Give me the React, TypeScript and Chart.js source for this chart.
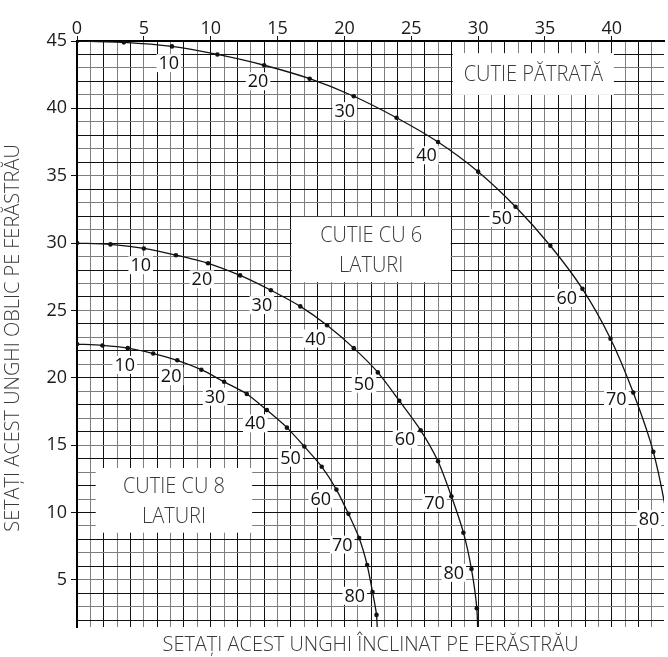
import React, { useEffect, useRef } from 'react';
import { Chart, registerables } from 'chart.js';

Chart.register(...registerables);

// Slope angle of the box sides (degrees) for each plotted point
const slopeAngles = [0, 5, 10, 15, 20, 25, 30, 35, 40, 45, 50, 55, 60, 65, 70, 75, 80, 85, 90];

// Square box: bevel (x) and miter (y)
const squareBevel = [0, 3.5, 7.1, 10.5, 14.0, 17.4, 20.7, 23.9, 27.0, 30.0, 32.8, 35.4, 37.8, 39.9, 41.6, 43.1, 44.1, 44.8];
const squareMiter = [45, 44.9, 44.6, 44.0, 43.2, 42.2, 40.9, 39.3, 37.5, 35.3, 32.7, 29.8, 26.6, 22.9, 18.9, 14.5, 9.8, 5.0];

// 6-sided box
const hexBevel = [0, 2.5, 5.0, 7.4, 9.8, 12.2, 14.5, 16.7, 18.7, 20.7, 22.5, 24.1, 25.7, 27.0, 28.0, 28.9, 29.5, 29.9, 30.0];
const hexMiter = [30, 29.9, 29.6, 29.1, 28.5, 27.6, 26.5, 25.3, 23.9, 22.2, 20.4, 18.3, 16.1, 13.8, 11.2, 8.5, 5.8, 2.9, 0];

// 8-sided box
const octBevel = [0, 1.9, 3.8, 5.7, 7.5, 9.3, 11.0, 12.7, 14.2, 15.7, 17.0, 18.3, 19.4, 20.3, 21.1, 21.7, 22.1, 22.4, 22.5];
const octMiter = [22.5, 22.4, 22.2, 21.8, 21.3, 20.6, 19.7, 18.8, 17.6, 16.3, 14.9, 13.4, 11.7, 9.9, 8.1, 6.1, 4.1, 2.4, 0];

const labelledAngles = [10, 20, 30, 40, 50, 60, 70, 80];
const xTickLabels = [0, 5, 10, 15, 20, 25, 30, 35, 40];
const yTickLabels = [5, 10, 15, 20, 25, 30, 35, 40, 45];

const xTitle = 'SETAȚI ACEST UNGHI ÎNCLINAT PE FERĂSTRĂU';
const yTitle = 'SETAȚI ACEST UNGHI OBLIC PE FERĂSTRĂU';

const squareBoxText = ['CUTIE PĂTRATĂ'];
const hexBoxText = ['CUTIE CU 6', 'LATURI'];
const octBoxText = ['CUTIE CU 8', 'LATURI'];

// Layout (data-unit extents of the white caption boxes)
const boxLayout = [
  { lines: squareBoxText, x0: 28.1, x1: 40.15, y0: 41.0, y1: 44.1 },
  { lines: hexBoxText, x0: 16.05, x1: 27.95, y0: 27.1, y1: 31.95 },
  { lines: octBoxText, x0: 1.4, x1: 13.1, y0: 8.5, y1: 13.3 },
];

const X_MIN = 0, X_MAX = 43.9, Y_MIN = 1.5, Y_MAX = 45;
const DARK = '#121212';
const GREY = '#7e7e7e';
const TEXT = '#3a3a3a';
const FONT = '"Open Sans", "Noto Sans", sans-serif';
const TITLE_CONDENSE = 0.95;
const BOX_CONDENSE = 0.91;

const series = [
  { bevel: squareBevel, miter: squareMiter },
  { bevel: hexBevel, miter: hexMiter },
  { bevel: octBevel, miter: octMiter },
];

function drawCondensed(ctx: CanvasRenderingContext2D, text: string, cx: number, cy: number, k: number, rot = 0) {
  ctx.save();
  ctx.translate(cx, cy);
  if (rot) ctx.rotate(rot);
  ctx.scale(k, 1);
  ctx.fillText(text, 0, 0);
  ctx.restore();
}

const overlayPlugin = {
  id: 'overlay',
  beforeDatasetsDraw(chart: any) {
    const { ctx, chartArea } = chart;
    const xs = chart.scales.x;
    const ys = chart.scales.y;
    ctx.save();
    ctx.beginPath();
    ctx.rect(chartArea.left, chartArea.top, chartArea.right - chartArea.left, chartArea.bottom - chartArea.top);
    ctx.clip();

    // caption boxes
    for (const b of boxLayout) {
      const l = xs.getPixelForValue(b.x0);
      const r = xs.getPixelForValue(b.x1);
      const t = ys.getPixelForValue(b.y1);
      const btm = ys.getPixelForValue(b.y0);
      ctx.fillStyle = '#ffffff';
      ctx.fillRect(l, t, r - l, btm - t);
      ctx.fillStyle = TEXT;
      ctx.font = `300 22px ${FONT}`;
      ctx.textAlign = 'center';
      ctx.textBaseline = 'middle';
      const cx = (l + r) / 2;
      const cy = (t + btm) / 2;
      const lh = 30;
      b.lines.forEach((line, i) => {
        const yy = cy + (i - (b.lines.length - 1) / 2) * lh + 1;
        drawCondensed(ctx, line, cx, yy, BOX_CONDENSE);
      });
    }

    // angle labels along curves
    ctx.font = `18px ${FONT}`;
    ctx.textAlign = 'center';
    ctx.textBaseline = 'middle';
    for (const s of series) {
      for (const a of labelledAngles) {
        const i = slopeAngles.indexOf(a);
        if (i < 0 || i >= s.bevel.length) continue;
        const px = xs.getPixelForValue(s.bevel[i]);
        const py = ys.getPixelForValue(s.miter[i]);
        const rad = (a * Math.PI) / 180;
        const lx = px - 18 * Math.sin(rad);
        const ly = py + 16 * Math.cos(rad) + 1;
        const text = String(a);
        const w = ctx.measureText(text).width;
        ctx.fillStyle = '#ffffff';
        ctx.fillRect(lx - w / 2 - 2, ly - 9, w + 4, 18);
        ctx.fillStyle = '#111111';
        ctx.fillText(text, lx, ly + 1);
      }
    }
    ctx.restore();
  },
  afterDraw(chart: any) {
    const { ctx, chartArea } = chart;
    ctx.save();
    ctx.fillStyle = TEXT;
    ctx.font = `300 21px ${FONT}`;
    ctx.textAlign = 'center';
    ctx.textBaseline = 'middle';
    drawCondensed(ctx, xTitle, (chartArea.left + chartArea.right) / 2, 645, TITLE_CONDENSE);
    drawCondensed(ctx, yTitle, 13, 338, TITLE_CONDENSE, -Math.PI / 2);
    ctx.restore();
  },
};

export default function App() {
  const canvasRef = useRef<HTMLCanvasElement | null>(null);

  useEffect(() => {
    const canvas = canvasRef.current;
    if (!canvas) return;

    const datasets = series.map((s) => ({
      data: s.bevel.map((b, i) => ({ x: b, y: s.miter[i] })),
      showLine: true,
      borderColor: DARK,
      borderWidth: 1.3,
      tension: 0.25,
      pointRadius: 2.3,
      pointBackgroundColor: DARK,
      pointBorderWidth: 0,
      xAxisID: 'x',
      yAxisID: 'y',
    }));

    const chart = new Chart(canvas, {
      type: 'scatter',
      data: { datasets },
      options: {
        animation: false,
        responsive: false,
        layout: { padding: 0 },
        plugins: { legend: { display: false }, tooltip: { enabled: false } },
        scales: {
          x: {
            type: 'linear',
            position: 'top',
            min: X_MIN,
            max: X_MAX,
            afterBuildTicks: (scale: any) => {
              const t = [];
              for (let v = Math.ceil(X_MIN); v <= X_MAX; v++) t.push({ value: v });
              scale.ticks = t;
            },
            afterFit: (scale: any) => { scale.height = 41; },
            ticks: {
              autoSkip: false,
              maxRotation: 0,
              padding: -4,
              color: '#1a1a1a',
              font: { family: FONT, size: 18 },
              callback: (v: any) => (xTickLabels.includes(Number(v)) ? String(v) : ''),
            },
            grid: {
              color: (c: any) => (c.tick && c.tick.value % 2 === 0 ? DARK : GREY),
              lineWidth: 1,
              tickLength: 5,
              tickColor: (c: any) => (c.tick && xTickLabels.includes(c.tick.value) ? DARK : 'rgba(0,0,0,0)'),
            },
            border: { display: true, color: '#000', width: 2 },
          },
          xb: {
            type: 'linear',
            position: 'bottom',
            min: 0,
            max: 1,
            afterFit: (scale: any) => { scale.height = 30; },
            ticks: { display: false },
            grid: { display: false, drawTicks: false },
            border: { display: false },
          },
          y: {
            type: 'linear',
            position: 'left',
            min: Y_MIN,
            max: Y_MAX,
            afterBuildTicks: (scale: any) => {
              const t = [];
              for (let v = Math.ceil(Y_MIN); v <= Y_MAX; v++) t.push({ value: v });
              scale.ticks = t;
            },
            afterFit: (scale: any) => { scale.width = 77; },
            ticks: {
              autoSkip: false,
              padding: 4,
              color: '#1a1a1a',
              font: { family: FONT, size: 18 },
              callback: (v: any) => (yTickLabels.includes(Number(v)) ? String(v) : ''),
            },
            grid: {
              color: (c: any) => (c.tick && c.tick.value % 2 === 0 ? DARK : GREY),
              lineWidth: 1,
              tickLength: 6,
              tickColor: (c: any) => (c.tick && yTickLabels.includes(c.tick.value) ? DARK : 'rgba(0,0,0,0)'),
            },
            border: { display: true, color: '#000', width: 2 },
          },
        },
      },
      plugins: [overlayPlugin],
    });

    return () => chart.destroy();
  }, []);

  return (
    <div style={{ position: 'absolute', left: 0, top: 0, width: 668, height: 657, background: '#fff' }}>
      <canvas ref={canvasRef} width={668} height={657} style={{ display: 'block' }} />
    </div>
  );
}
